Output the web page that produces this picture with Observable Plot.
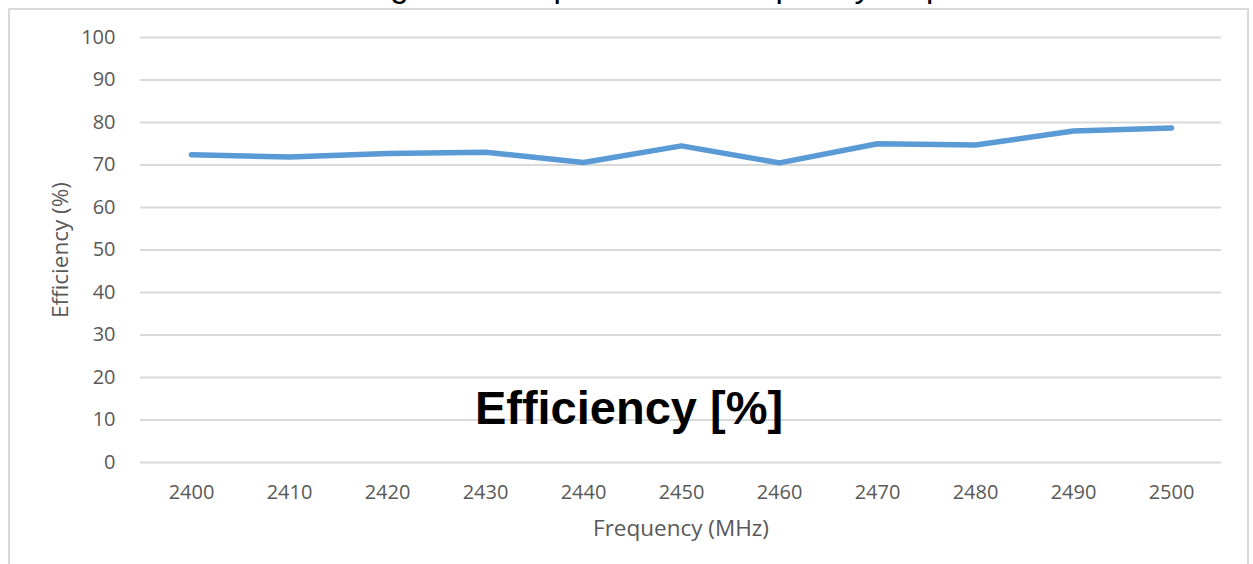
<!DOCTYPE html>
<html><head><meta charset="utf-8">
<script src="https://cdn.jsdelivr.net/npm/d3@7"></script>
<script src="https://cdn.jsdelivr.net/npm/@observablehq/plot@0.6"></script>
<style>
body{margin:0;background:#fff;overflow:hidden;}
#wrap{position:relative;width:1253px;height:564px;overflow:hidden;}
#frame{position:absolute;left:8px;top:8px;width:1241px;height:620px;border:2px solid #d9d9d9;box-sizing:border-box;}
#title{position:absolute;left:309px;top:-31px;font-family:"Liberation Sans",Arial,sans-serif;font-size:33px;line-height:33px;white-space:nowrap;color:#000;}
#chart{position:absolute;left:0;top:0;}
</style></head>
<body><div id="wrap"><div id="title">Tuning rate Compared with Frequency response</div><div id="frame"></div><div id="chart"></div></div>
<script>
const frequencies = [2400, 2410, 2420, 2430, 2440, 2450, 2460, 2470, 2480, 2490, 2500];
const efficiency = [72.4, 71.9, 72.7, 73.0, 70.6, 74.5, 70.5, 75.0, 74.7, 78.0, 78.7];
const yTicks = [0, 10, 20, 30, 40, 50, 60, 70, 80, 90, 100];
const xLabel = "Frequency (MHz)";
const yLabel = "Efficiency (%)";
const overlayLabel = "Efficiency [%]";

const data = frequencies.map((f, i) => ({f, e: efficiency[i]}));

const chart = Plot.plot({
  width: 1253, height: 564,
  marginLeft: 140, marginRight: 32, marginTop: 37, marginBottom: 102,
  style: {fontFamily: "'Open Sans', sans-serif", fontSize: "20px", color: "#595959", background: "transparent", overflow: "visible"},
  x: {type: "point", domain: frequencies, padding: 0.5},
  y: {domain: [0, 100]},
  marks: [
    Plot.gridY(yTicks, {stroke: "#d9d9d9", strokeOpacity: 1, strokeWidth: 2}),
    Plot.axisY(yTicks, {tickSize: 0, tickPadding: 25, label: null, fill: "#595959", fontSize: 20}),
    Plot.axisX(frequencies, {tickSize: 0, tickPadding: 22, label: null, tickFormat: d => String(d), fill: "#595959", fontSize: 20}),
    Plot.text([yLabel], {text: d => d, frameAnchor: "left", dx: -80, rotate: -90, textAnchor: "middle", lineAnchor: "middle", fontSize: 22.5, fill: "#595959"}),
    Plot.text([xLabel], {text: d => d, frameAnchor: "bottom", dy: 66, textAnchor: "middle", lineAnchor: "middle", fontSize: 22.5, fill: "#595959"}),
    Plot.lineY(data, {x: "f", y: "e", stroke: "#5b9bd5", strokeWidth: 5.5, strokeLinecap: "round", strokeLinejoin: "round"}),
    Plot.text([overlayLabel], {text: d => d, frameAnchor: "bottom", dx: -52, dy: -54, textAnchor: "middle", lineAnchor: "middle", fontSize: 47, fontWeight: "bold", fontFamily: "Liberation Sans, Arial, sans-serif", fill: "#000"})
  ]
});
document.getElementById("chart").appendChild(chart);
</script>
</body></html>
